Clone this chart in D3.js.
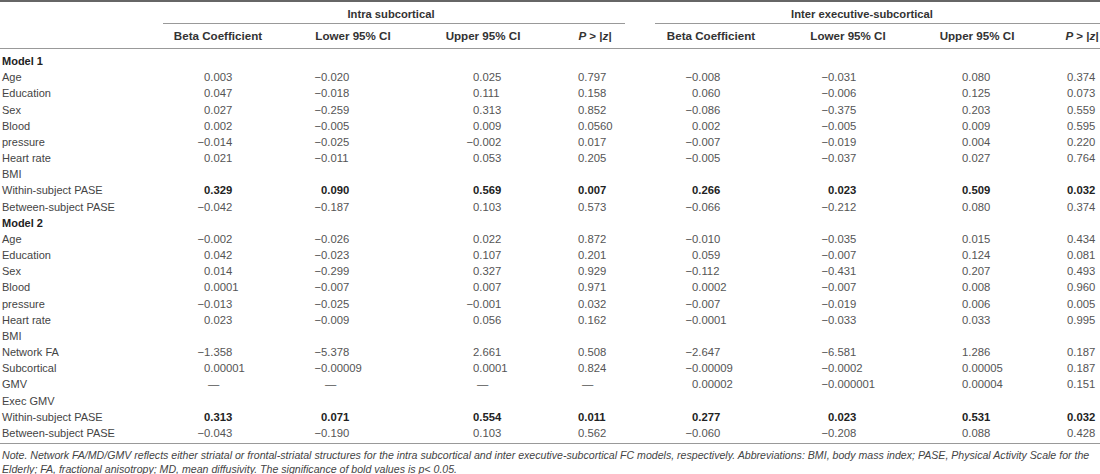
<!DOCTYPE html>
<html>
<head>
<meta charset="utf-8">
<script src="https://cdn.jsdelivr.net/npm/d3@7/dist/d3.min.js"></script>
<style>
  html, body { margin: 0; padding: 0; background: #fff; }
  svg { display: block; font-family: "Liberation Sans", Arial, Helvetica, sans-serif; }
</style>
</head>
<body>
<svg id="chart" width="1100" height="474"></svg>
<script>
// ---------- data ----------
const groupNames = ["Intra subcortical", "Inter executive-subcortical"];
const columnHeaders = ["Beta Coefficient", "Lower 95% CI", "Upper 95% CI", "P > |z|"];

const rowLabels = [
  "Model 1", "Age", "Education", "Sex", "Blood", "pressure", "Heart rate", "BMI",
  "Within-subject PASE", "Between-subject PASE",
  "Model 2", "Age", "Education", "Sex", "Blood", "pressure", "Heart rate", "BMI",
  "Network FA", "Subcortical", "GMV", "Exec GMV",
  "Within-subject PASE", "Between-subject PASE"
];
const sectionRows = [0, 10];          // bold "Model" headings
const boldRows = [8, 22];             // significant rows (bold values)

const intraBeta  = ["", "0.003", "0.047", "0.027", "0.002", "-0.014", "0.021", "", "0.329", "-0.042",
                    "", "-0.002", "0.042", "0.014", "0.0001", "-0.013", "0.023", "", "-1.358", "0.00001", "—", "", "0.313", "-0.043"];
const intraLower = ["", "-0.020", "-0.018", "-0.259", "-0.005", "-0.025", "-0.011", "", "0.090", "-0.187",
                    "", "-0.026", "-0.023", "-0.299", "-0.007", "-0.025", "-0.009", "", "-5.378", "-0.00009", "—", "", "0.071", "-0.190"];
const intraUpper = ["", "0.025", "0.111", "0.313", "0.009", "-0.002", "0.053", "", "0.569", "0.103",
                    "", "0.022", "0.107", "0.327", "0.007", "-0.001", "0.056", "", "2.661", "0.0001", "—", "", "0.554", "0.103"];
const intraP     = ["", "0.797", "0.158", "0.852", "0.0560", "0.017", "0.205", "", "0.007", "0.573",
                    "", "0.872", "0.201", "0.929", "0.971", "0.032", "0.162", "", "0.508", "0.824", "—", "", "0.011", "0.562"];
const interBeta  = ["", "-0.008", "0.060", "-0.086", "0.002", "-0.007", "-0.005", "", "0.266", "-0.066",
                    "", "-0.010", "0.059", "-0.112", "0.0002", "-0.007", "-0.0001", "", "-2.647", "-0.00009", "0.00002", "", "0.277", "-0.060"];
const interLower = ["", "-0.031", "-0.006", "-0.375", "-0.005", "-0.019", "-0.037", "", "0.023", "-0.212",
                    "", "-0.035", "-0.007", "-0.431", "-0.007", "-0.019", "-0.033", "", "-6.581", "-0.0002", "-0.000001", "", "0.023", "-0.208"];
const interUpper = ["", "0.080", "0.125", "0.203", "0.009", "0.004", "0.027", "", "0.509", "0.080",
                    "", "0.015", "0.124", "0.207", "0.008", "0.006", "0.033", "", "1.286", "0.00005", "0.00004", "", "0.531", "0.088"];
const interP     = ["", "0.374", "0.073", "0.559", "0.595", "0.220", "0.764", "", "0.032", "0.374",
                    "", "0.434", "0.081", "0.493", "0.960", "0.005", "0.995", "", "0.187", "0.187", "0.151", "", "0.032", "0.428"];

const noteLines = [
  "Note. Network FA/MD/GMV reflects either striatal or frontal-striatal structures for the intra subcortical and inter executive-subcortical FC models, respectively. Abbreviations: BMI, body mass index; PASE, Physical Activity Scale for the",
  "Elderly; FA, fractional anisotropy; MD, mean diffusivity. The significance of bold values is p< 0.05."
];

// ---------- layout ----------
const columns = [intraBeta, intraLower, intraUpper, intraP, interBeta, interLower, interUpper, interP];
const colKeys = d3.range(columns.length);

const svg = d3.select("#chart");
const W = 1100;

// x positions: header centres and digit start for numbers
const headerX = d3.scaleOrdinal().domain(colKeys).range([218, 353, 483, 595, 711, 848, 977, 1082]);
const digitX  = d3.scaleOrdinal().domain(colKeys).range([204, 321, 473, 578, 692, 828, 962, 1067]);
const groupSpan = d3.scaleOrdinal().domain([0, 1]).range([[163, 625], [655, 1100]]);
const groupTextX = d3.scaleOrdinal().domain([0, 1]).range([391, 862]);

const y = d3.scalePoint().domain(d3.range(rowLabels.length)).range([61, 433]);

const lineColor = "#999";

// top rule
svg.append("line").attr("x1", 0).attr("x2", W).attr("y1", 1).attr("y2", 1)
  .attr("stroke", "#666").attr("stroke-width", 2);

// group headers + underlines
groupNames.forEach((g, i) => {
  const [a, b] = groupSpan(i);
  svg.append("text").attr("x", groupTextX(i)).attr("y", 18)
    .attr("text-anchor", "middle")
    .style("font-weight", "bold").style("font-size", "11.2px").style("fill", "#333")
    .text(g);
  svg.append("line").attr("x1", a).attr("x2", b).attr("y1", 23.5).attr("y2", 23.5)
    .attr("stroke", lineColor).attr("stroke-width", 1);
});

// column headers
colKeys.forEach(k => {
  const h = columnHeaders[k % 4];
  const t = svg.append("text").attr("x", headerX(k)).attr("y", 40)
    .attr("text-anchor", "middle")
    .style("font-weight", "bold").style("font-size", "11.6px").style("fill", "#333");
  if (h.startsWith("P")) {
    t.append("tspan").style("font-style", "italic").text("P");
    t.append("tspan").text(" > |");
    t.append("tspan").style("font-style", "italic").text("z");
    t.append("tspan").text("|");
  } else {
    t.text(h);
  }
});

svg.append("line").attr("x1", 0).attr("x2", W).attr("y1", 48.5).attr("y2", 48.5)
  .attr("stroke", lineColor).attr("stroke-width", 1);

// row labels
svg.append("g").selectAll("text").data(rowLabels).join("text")
  .attr("x", 2).attr("y", (d, i) => y(i) + 4)
  .style("font-size", "11px")
  .style("font-weight", (d, i) => sectionRows.includes(i) ? "bold" : "normal")
  .style("fill", (d, i) => sectionRows.includes(i) ? "#222" : "#444")
  .text(d => d);

// measure minus width
const probe = svg.append("text").style("font-size", "11.3px").text("\u2212");
const minusW = probe.node().getComputedTextLength();
probe.remove();

// values
colKeys.forEach(k => {
  svg.append("g").selectAll("text").data(columns[k]).join("text")
    .attr("y", (d, i) => y(i) + 4)
    .attr("x", d => {
      if (d === "—") return digitX(k) + 4;
      return d.startsWith("-") ? digitX(k) - minusW : digitX(k);
    })
    .style("font-size", "11.3px")
    .style("font-weight", (d, i) => boldRows.includes(i) ? "bold" : "normal")
    .style("fill", (d, i) => boldRows.includes(i) ? "#222" : "#555")
    .text(d => d.replace("-", "\u2212"));
});

// bottom rule
svg.append("line").attr("x1", 0).attr("x2", W).attr("y1", 443.5).attr("y2", 443.5)
  .attr("stroke", lineColor).attr("stroke-width", 1);

// notes
svg.append("g").selectAll("text").data(noteLines).join("text")
  .attr("x", 2).attr("y", (d, i) => 459 + i * 13.5)
  .style("font-style", "italic").style("font-size", "10.6px").style("fill", "#444")
  .text(d => d);
</script>
</body>
</html>
